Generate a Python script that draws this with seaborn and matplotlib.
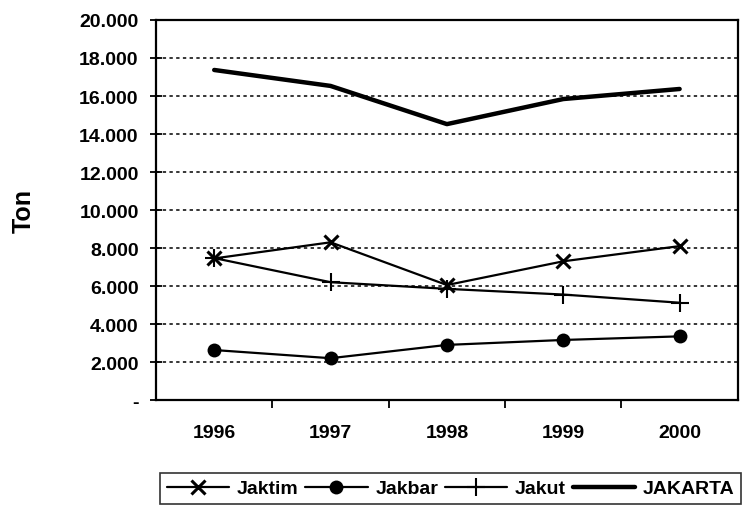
import numpy as np
import pandas as pd
import matplotlib
matplotlib.use("Agg")
import matplotlib.pyplot as plt
import seaborn as sns
from matplotlib.ticker import FixedLocator

# data
years = ["1996", "1997", "1998", "1999", "2000"]
jaktim = [7450, 8300, 6050, 7300, 8100]
jakbar = [2630, 2200, 2900, 3160, 3350]
jakut = [7470, 6200, 5850, 5550, 5120]
jakarta = [17370, 16530, 14520, 15840, 16370]
y_ticks = [0, 2000, 4000, 6000, 8000, 10000, 12000, 14000, 16000, 18000, 20000]
y_labels = ["-", "2.000", "4.000", "6.000", "8.000", "10.000", "12.000",
            "14.000", "16.000", "18.000", "20.000"]

sns.set_style("white")
plt.rcParams["font.family"] = ["Liberation Sans", "DejaVu Sans"]
plt.rcParams["text.color"] = "black"
plt.rcParams["xtick.color"] = "black"
plt.rcParams["ytick.color"] = "black"
plt.rcParams["axes.labelcolor"] = "black"

pos = np.arange(len(years))

fig = plt.figure(figsize=(7.43, 5.06), dpi=100)
ax = fig.add_axes([0.21, 0.2075, 0.783, 0.751])

# dotted gridlines under the series
for v in y_ticks[1:-1]:
    ax.axhline(v, color="black", lw=1.1, ls=(0, (2.2, 2.2)), zorder=1)

sns.lineplot(x=pos, y=jaktim, ax=ax, color="black", lw=1.6, marker="x",
             markersize=10, markeredgewidth=2.2, markeredgecolor="black",
             label="Jaktim", zorder=3)
sns.lineplot(x=pos, y=jakbar, ax=ax, color="black", lw=1.6, marker="o",
             markersize=10, markeredgewidth=0, markeredgecolor="black",
             label="Jakbar", zorder=3)
sns.lineplot(x=pos, y=jakut, ax=ax, color="black", lw=1.6, marker="+",
             markersize=13, markeredgewidth=1.5, markeredgecolor="black",
             label="Jakut", zorder=3)
sns.lineplot(x=pos, y=jakarta, ax=ax, color="black", lw=3.2,
             label="JAKARTA", zorder=3)

ax.set_xlim(-0.5, len(years) - 0.5)
ax.set_ylim(0, 20000)
ax.set_xticks(pos)
ax.set_xticklabels(years)
ax.xaxis.set_minor_locator(FixedLocator(pos[:-1] + 0.5))
ax.set_yticks(y_ticks)
ax.set_yticklabels(y_labels)

ax.tick_params(axis="x", which="major", length=0, pad=17, labelsize=14)
ax.tick_params(axis="x", which="minor", length=6, width=1.3, direction="out",
               bottom=True)
ax.tick_params(axis="y", which="major", length=9, width=1.3, direction="inout",
               left=True, labelsize=14, pad=8)
for lab in ax.get_xticklabels() + ax.get_yticklabels():
    lab.set_fontweight("bold")

for sp in ax.spines.values():
    sp.set_visible(True)
    sp.set_color("black")
    sp.set_linewidth(1.6)

ax.set_xlabel("")
ax.set_ylabel("Ton", fontsize=18, fontweight="bold")
ax.yaxis.set_label_coords(-0.207, 0.5)

ax.legend_.remove()
handles, labels = ax.get_legend_handles_labels()
leg = fig.legend(handles, labels, loc="upper left",
                 bbox_to_anchor=(160 / 743, 1 - 474 / 506), ncol=4,
                 frameon=True, fancybox=False, edgecolor="black",
                 fontsize=14, handlelength=3.2, columnspacing=0.35,
                 handletextpad=0.4, borderpad=0.35, borderaxespad=0)
leg.get_frame().set_linewidth(1.2)
for t in leg.get_texts():
    t.set_fontweight("bold")

fig.savefig("out.png", dpi=100)
